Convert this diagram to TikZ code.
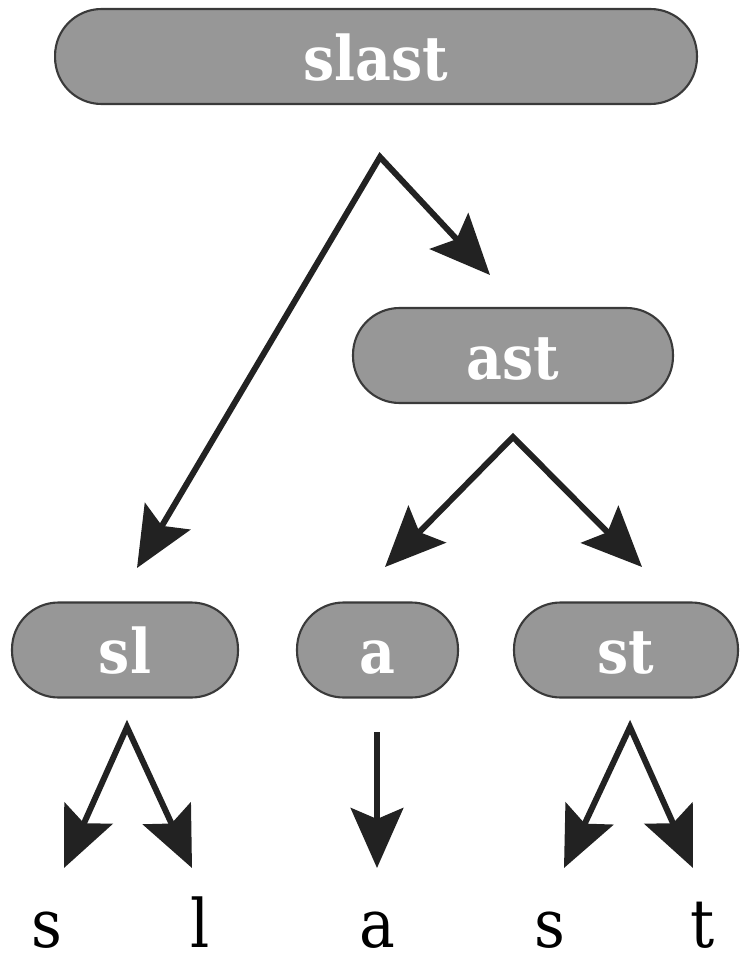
\documentclass[tikz,border=0pt]{standalone}
\usepackage{fontspec}
\setmainfont{DejaVu Serif}[FakeStretch=0.9]
\usetikzlibrary{arrows.meta}
\definecolor{boxgray}{HTML}{979797}
\definecolor{boxline}{HTML}{3A3A3A}
\definecolor{arrowink}{HTML}{222222}
\tikzset{
  part/.style={draw=boxline, line width=1.2pt, fill=boxgray, rounded corners=0.93cm,
    minimum height=1.9cm, inner sep=0pt, text=white, text height=0.95cm, text depth=0pt,
    font=\fontsize{35}{40}\selectfont\bfseries},
  letter/.style={anchor=base, inner sep=0pt, text depth=0pt, font=\fontsize{38}{42}\selectfont},
  split/.style={draw=arrowink, line width=3.4pt,
    {Stealth[length=1.2cm, width=1.05cm, inset=0.22cm]}-{Stealth[length=1.2cm, width=1.05cm, inset=0.22cm]}},
  down/.style={draw=arrowink, line width=3.4pt, -{Stealth[length=1.2cm, width=1.05cm, inset=0.22cm]}}
}
\begin{document}
\begin{tikzpicture}[x=0.02cm, y=-0.02cm]
  \useasboundingbox (0,0) rectangle (740,956);
  \node[part, minimum width=12.84cm] (slast) at (376,56.5) {slast};
  \node[part, minimum width=6.4cm] (ast) at (513,355.5) {ast};
  \node[part, minimum width=4.52cm] (sl) at (125,650) {sl};
  \node[part, minimum width=3.22cm] (a) at (377.5,650) {a};
  \node[part, minimum width=4.48cm] (st) at (626,650) {st};
  \node[letter] (s1) at (47,947) {s};
  \node[letter] (l1) at (200,947) {l};
  \node[letter] (a1) at (377,947) {a};
  \node[letter] (s2) at (550,947) {s};
  \node[letter] (t1) at (703,947) {t};
  % fork points and arrow ends
  \coordinate (slast-fork) at (380,157);
  \coordinate (ast-in) at (490,275);
  \coordinate (sl-in) at (137,568);
  \coordinate (ast-fork) at (513,437);
  \coordinate (a-in) at (385,567);
  \coordinate (st-in) at (642,567);
  \coordinate (sl-fork) at (127,727);
  \coordinate (s1-in) at (64,868);
  \coordinate (l1-in) at (192,868);
  \coordinate (a-fork) at (377,732);
  \coordinate (a1-in) at (377,868);
  \coordinate (st-fork) at (630,727);
  \coordinate (s2-in) at (564,868);
  \coordinate (t1-in) at (693,868);
  % Draw the splits
  \draw[split] (sl-in) -- (slast-fork) -- (ast-in);
  \draw[split] (a-in) -- (ast-fork) -- (st-in);
  \draw[split] (s1-in) -- (sl-fork) -- (l1-in);
  \draw[down] (a-fork) -- (a1-in);
  \draw[split] (s2-in) -- (st-fork) -- (t1-in);
\end{tikzpicture}
\end{document}
